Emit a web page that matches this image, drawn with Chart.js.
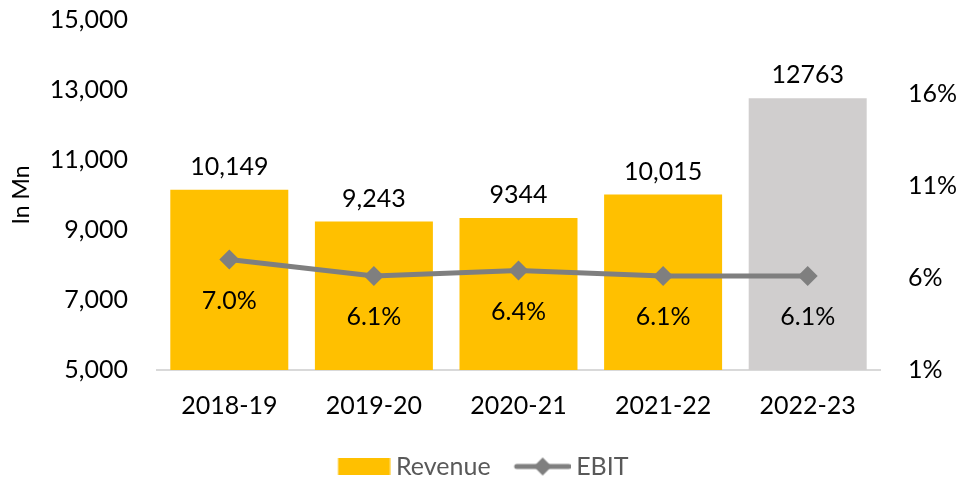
<!DOCTYPE html>
<html>
<head>
<meta charset="utf-8">
<script src="https://cdn.jsdelivr.net/npm/chart.js@4.4.1/dist/chart.umd.min.js"></script>
<style>
  html, body { margin: 0; padding: 0; background: #fff; }
  #wrap { width: 962px; height: 477px; }
</style>
</head>
<body>
<div id="wrap"><canvas id="chart" width="962" height="477"></canvas></div>
<script>
const years = ['2018-19', '2019-20', '2020-21', '2021-22', '2022-23'];
const revenue = [10149, 9243, 9344, 10015, 12763];
const revenueLabels = ['10,149', '9,243', '9344', '10,015', '12763'];
const ebit = [7.0, 6.1, 6.4, 6.1, 6.1];
const barColors = ['#FFC000', '#FFC000', '#FFC000', '#FFC000', '#D0CECE'];
const leftTicks = [5000, 7000, 9000, 11000, 13000, 15000];
const rightTicks = [1, 6, 11, 16];

const FONT = 'Lato, "Open Sans", sans-serif';

// legend swatches (drawn off-centre so the gap to the text is tight)
function swatch(w, h, draw) {
  const c = document.createElement('canvas');
  c.width = w; c.height = h;
  draw(c.getContext('2d'));
  return c;
}
const revSwatch = swatch(64, 17, g => { g.fillStyle = '#FFC000'; g.fillRect(11.5, 0, 52, 17); });
const ebitSwatch = swatch(64, 20, g => {
  g.strokeStyle = '#7F7F7F'; g.lineWidth = 5; g.lineCap = 'round';
  g.beginPath(); g.moveTo(10, 10); g.lineTo(62, 10); g.stroke();
  g.fillStyle = '#7F7F7F';
  g.beginPath(); g.moveTo(36, 1); g.lineTo(45, 10); g.lineTo(36, 19); g.lineTo(27, 10); g.closePath(); g.fill();
});

// value labels
const labelPlugin = {
  id: 'valueLabels',
  afterDatasetsDraw(chart) {
    const ctx = chart.ctx;
    ctx.save();
    ctx.font = '25px ' + FONT;
    ctx.fillStyle = '#000';
    ctx.textAlign = 'center';
    ctx.textBaseline = 'middle';
    chart.getDatasetMeta(1).data.forEach((bar, i) => {
      ctx.fillText(revenueLabels[i], bar.x, bar.y - 23);
    });
    chart.getDatasetMeta(0).data.forEach((pt, i) => {
      ctx.fillText(ebit[i].toFixed(1) + '%', pt.x, pt.y + 41);
    });
    ctx.restore();
  }
};

new Chart(document.getElementById('chart'), {
  data: {
    labels: years,
    datasets: [
      {
        type: 'line', label: 'EBIT', data: ebit, yAxisID: 'y1',
        borderColor: '#7F7F7F', borderWidth: 5, backgroundColor: '#7F7F7F',
        pointStyle: 'rectRot', pointRadius: 10, pointHoverRadius: 10,
        pointBackgroundColor: '#7F7F7F', pointBorderWidth: 0, tension: 0, order: 1
      },
      {
        type: 'bar', label: 'Revenue', data: revenue, yAxisID: 'y',
        backgroundColor: barColors, barPercentage: 1, categoryPercentage: 0.816, order: 2
      }
    ]
  },
  options: {
    responsive: false,
    animation: false,
    layout: { padding: { top: 20, right: 0, bottom: -12, left: 0 } },
    plugins: {
      tooltip: { enabled: false },
      legend: {
        position: 'bottom',
        labels: {
          usePointStyle: true,
          pointStyleWidth: 50,
          boxHeight: 20,
          padding: 23,
          color: '#595959',
          font: { family: FONT, size: 25 },
          generateLabels() {
            return [
              { text: 'Revenue', pointStyle: revSwatch, fillStyle: '#FFC000', strokeStyle: '#FFC000', lineWidth: 0, fontColor: '#595959', datasetIndex: 1 },
              { text: 'EBIT', pointStyle: ebitSwatch, fillStyle: '#7F7F7F', strokeStyle: '#7F7F7F', lineWidth: 0, fontColor: '#595959', datasetIndex: 0 }
            ];
          }
        }
      }
    },
    scales: {
      x: {
        offset: true,
        grid: { display: false, drawTicks: false },
        border: { color: '#D9D9D9', width: 2 },
        ticks: { color: '#000', font: { family: FONT, size: 25 }, padding: 21 },
        afterFit(s) { s.height = 61; }
      },
      y: {
        position: 'left',
        min: 5000, max: 15000,
        grid: { display: false, drawTicks: false },
        border: { display: false },
        ticks: {
          color: '#000', font: { family: FONT, size: 25 }, padding: 29,
          callback: v => v.toLocaleString('en-US')
        },
        afterBuildTicks(s) { s.ticks = leftTicks.map(v => ({ value: v })); },
        title: { display: true, text: 'In Mn', color: '#000', font: { family: FONT, size: 23 }, padding: { top: 8, bottom: 0 } },
        afterFit(s) { s.width = 157; s.paddingTop = 0; s.paddingBottom = 0; }
      },
      y1: {
        position: 'right',
        min: 1, max: 20,
        grid: { display: false, drawTicks: false },
        border: { display: false },
        ticks: { color: '#000', font: { family: FONT, size: 25 }, padding: 28, callback: v => v + '%' },
        afterBuildTicks(s) { s.ticks = rightTicks.map(v => ({ value: v })); },
        afterFit(s) { s.width = 82; s.paddingTop = 0; s.paddingBottom = 0; }
      }
    }
  },
  plugins: [labelPlugin]
});
</script>
</body>
</html>
